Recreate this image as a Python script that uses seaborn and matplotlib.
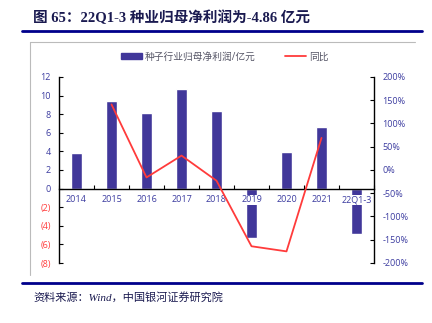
import numpy as np
import pandas as pd
import matplotlib
matplotlib.use("Agg")
import matplotlib.pyplot as plt
import seaborn as sns
from matplotlib.lines import Line2D
from matplotlib.patches import Patch

categories = ["2014", "2015", "2016", "2017", "2018", "2019", "2020", "2021", "22Q1-3"]
profit = [3.8, 9.46, 8.1, 10.75, 8.3, -5.3, 3.9, 6.67, -4.86]
yoy_categories = ["2015", "2016", "2017", "2018", "2019", "2020", "2021"]
yoy = [141, -16, 31, -23, -164, -175, 69]
left_ticks = [-8, -6, -4, -2, 0, 2, 4, 6, 8, 10, 12]
right_ticks = [-200, -150, -100, -50, 0, 50, 100, 150, 200]

sns.set_theme(style="white")
plt.rcParams['font.family'] = ['Open Sans', 'Noto Sans CJK SC', 'DejaVu Sans']

BAR = "#41379A"
RED = "#FF3B3B"
BLUE_TXT = "#3C3CA0"
NAVY = "#00008B"

fig = plt.figure(figsize=(4.32, 3.23), dpi=100)
ax = fig.add_axes([59/432, 1-263/323, (374-59)/432, (263-77)/323])

df = pd.DataFrame({"cat": categories, "val": profit})
sns.barplot(data=df, x="cat", y="val", color=BAR, width=0.3, ax=ax,
            saturation=1, order=categories)
ax.set_xlim(-0.5, len(categories) - 0.5)
ax.set_ylim(-8, 12)
ax.set_yticks(left_ticks)
ax.set_yticklabels([f"({abs(v)})" if v < 0 else f"{v}" for v in left_ticks])
for lbl, v in zip(ax.get_yticklabels(), left_ticks):
    lbl.set_color(RED if v < 0 else BLUE_TXT)
ax.set_xlabel("")
ax.set_ylabel("")
ax.spines['top'].set_visible(False)
ax.spines['right'].set_visible(False)
ax.spines['left'].set_color('black')
ax.spines['left'].set_linewidth(1.0)
ax.spines['bottom'].set_position(('data', 0))
ax.spines['bottom'].set_color('black')
ax.spines['bottom'].set_linewidth(1.0)
ax.tick_params(axis='y', direction='in', length=3, width=0.8, color='black',
               labelsize=6.5, pad=6, left=True)
ax.tick_params(axis='x', which='major', length=0)
ax.set_xticks(np.arange(len(categories) + 1) - 0.5, minor=True)
ax.tick_params(axis='x', which='minor', direction='in', length=3, width=0.8,
               color='black', bottom=True)
ax.set_xticklabels([])
ax.grid(False)

# category labels drawn over the bars with a white backing, as in the reference
for i, c in enumerate(categories):
    ax.text(i, -0.7, c, ha='center', va='top', fontsize=6.5, color=BLUE_TXT,
            zorder=5, bbox=dict(facecolor='white', edgecolor='none', pad=0.3))

ax2 = ax.twinx()
xpos = [categories.index(c) for c in yoy_categories]
sns.lineplot(x=xpos, y=yoy, color=RED, linewidth=1.3, ax=ax2)
ax2.set_ylim(-200, 200)
ax2.set_yticks(right_ticks)
ax2.set_yticklabels([f"{v}%" for v in right_ticks])
ax2.tick_params(axis='y', direction='in', length=3, width=0.8, color='black',
                labelsize=6.5, labelcolor=BLUE_TXT, pad=6, right=True)
for s in ['top', 'bottom', 'left']:
    ax2.spines[s].set_visible(False)
ax2.spines['right'].set_color('black')
ax2.spines['right'].set_linewidth(1.0)
ax2.set_ylabel("")
ax2.grid(False)

handles = [Patch(facecolor=BAR, edgecolor=BAR), Line2D([0], [0], color=RED, lw=1.3)]
fig.legend(handles, ["种子行业归母净利润/亿元", "同比"], loc='center',
           bbox_to_anchor=(0.52, 1-57/323), ncol=2, frameon=False,
           fontsize=7, labelcolor="#555566", handlelength=2.2, handleheight=0.5,
           columnspacing=3.0, handletextpad=0.3)

# title and decorations
fig.text(33/432, 1-18/323, "图 65：22Q1-3 种业归母净利润为-4.86 亿元",
         fontsize=10.5, fontweight='bold', color="#1A1A50", va='center', ha='left',
         family=['Liberation Serif', 'Noto Sans CJK SC'])
fig.add_artist(Line2D([22/432, 422/432], [1-31/323, 1-31/323], color=NAVY, lw=2))
fig.add_artist(Line2D([22/432, 422/432], [1-283/323, 1-283/323], color=NAVY, lw=2))
fig.add_artist(Line2D([30.5/432, 415/432], [1-41.5/323, 1-41.5/323], color="#BBBBBB", lw=0.8))
fig.add_artist(Line2D([30.5/432, 30.5/432], [1-41.5/323, 1-275/323], color="#BBBBBB", lw=0.8))
fig.text(33/432, 1-297/323, "资料来源：Wind，中国银河证券研究院",
         fontsize=8, style='italic', color="#1A1A50", va='center', ha='left',
         family=['Liberation Serif', 'Noto Sans CJK SC'])

fig.savefig("out.png", dpi=100)
